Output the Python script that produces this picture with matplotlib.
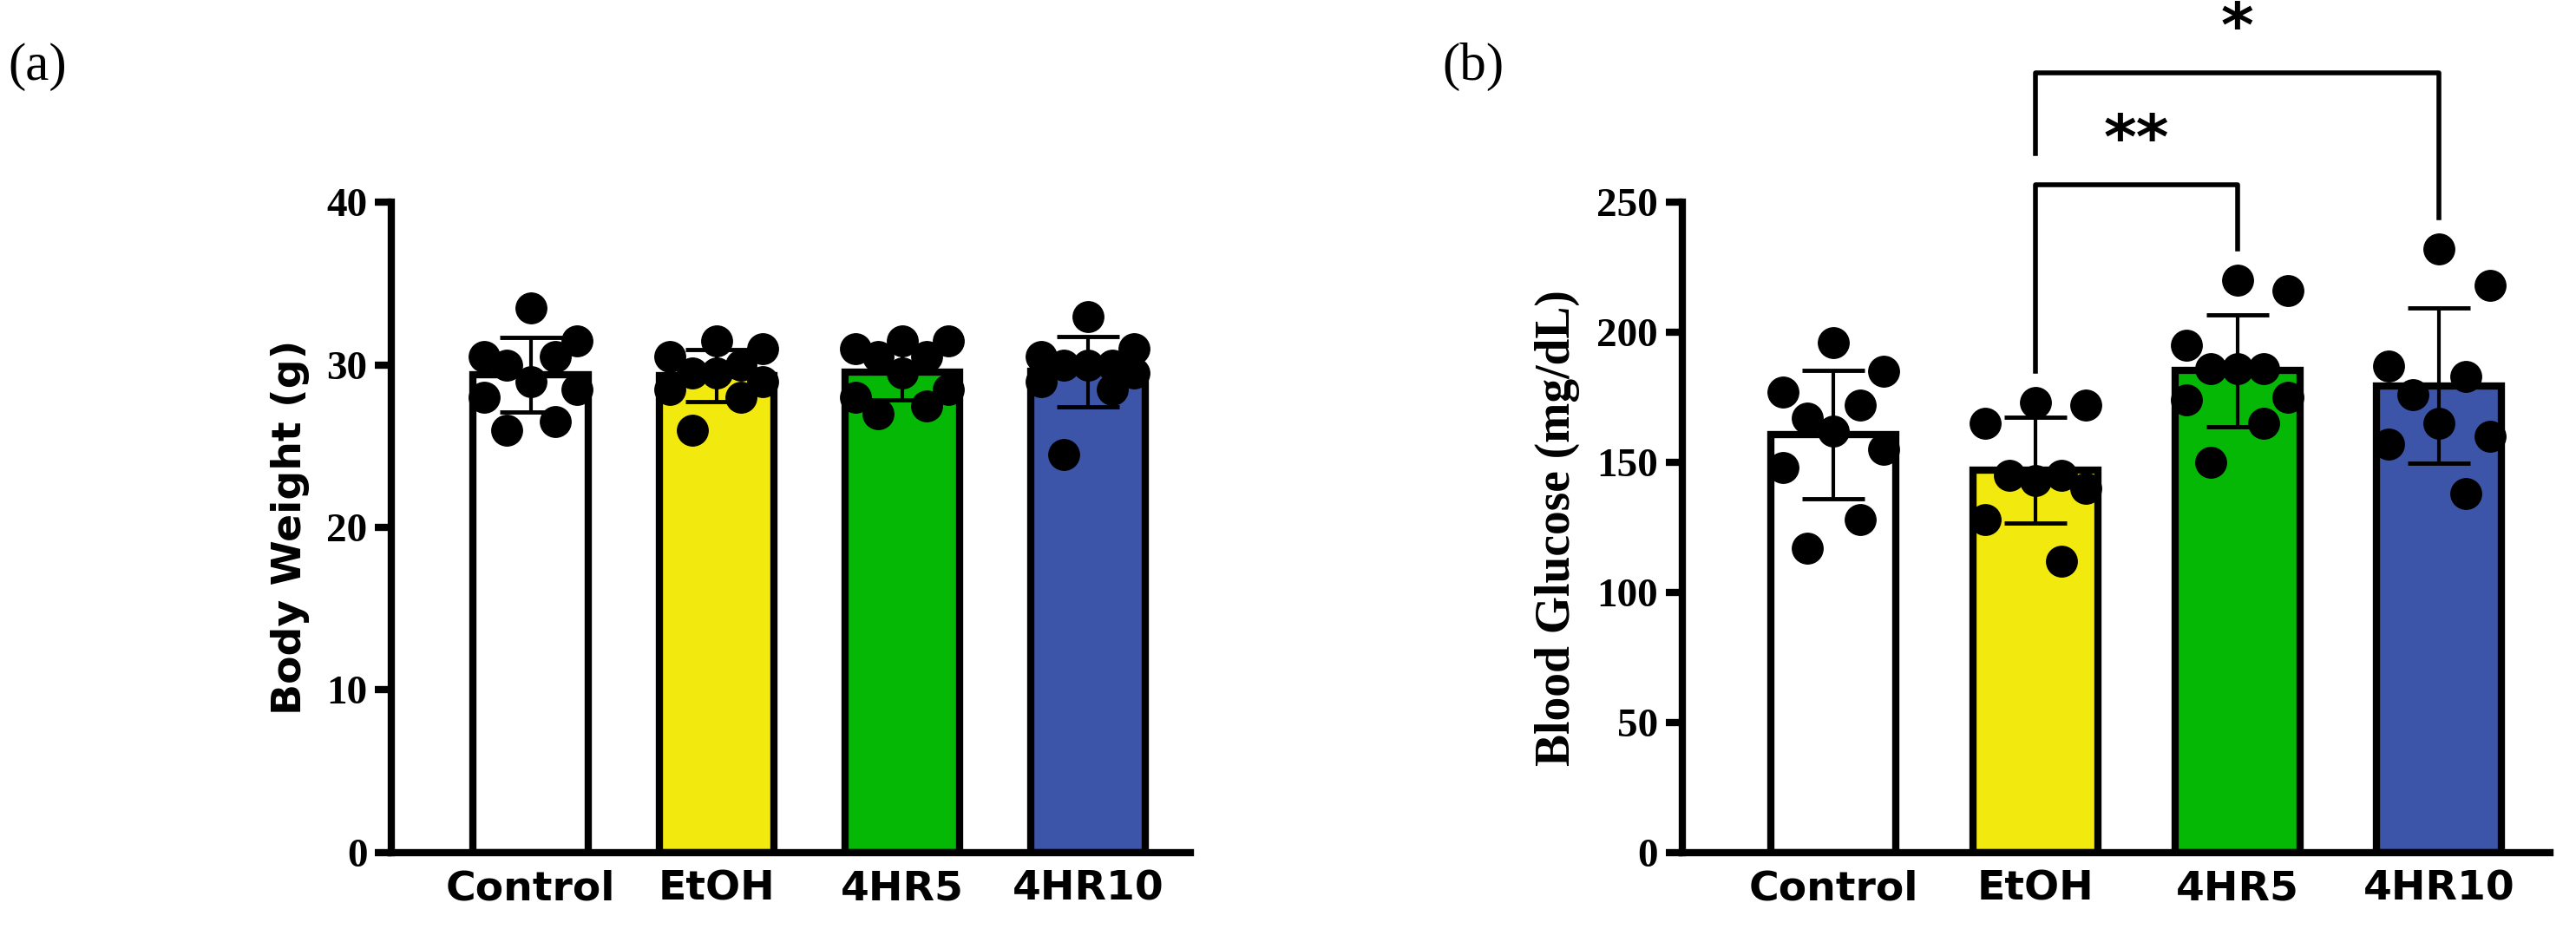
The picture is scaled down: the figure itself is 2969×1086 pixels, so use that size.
import matplotlib.pyplot as plt
import numpy as np

groups = ["Control", "EtOH", "4HR5", "4HR10"]
colors = ["#ffffff", "#f2e90f", "#05b805", "#3d55a8"]

weight = [
    [33.5, 31.5, 30.5, 30.5, 30.0, 29.0, 28.5, 28.0, 26.5, 26.0],
    [31.5, 31.0, 30.5, 30.0, 29.5, 29.5, 29.0, 28.5, 28.0, 26.0],
    [31.5, 31.5, 31.0, 30.5, 30.5, 29.5, 28.5, 28.0, 27.5, 27.0],
    [33.0, 31.0, 30.5, 30.0, 30.0, 30.0, 29.5, 29.0, 28.5, 24.5],
]
glucose = [
    [196, 185, 177, 172, 167, 162, 155, 148, 128, 117],
    [173, 172, 165, 145, 145, 143, 140, 128, 112],
    [220, 216, 195, 186, 186, 186, 175, 174, 165, 150],
    [232, 218, 187, 183, 176, 165, 160, 157, 138],
]
jitter = [0.0, 0.25, -0.25, 0.13, -0.13, 0.0, 0.25, -0.25, 0.13, -0.13]

SERIF = "Liberation Serif"


def panel(ax, data, ylim, yticks, ylabel, ylabel_family, ylabel_size):
    x = np.arange(len(groups))
    means = [np.mean(d) for d in data]
    sds = [np.std(d, ddof=1) for d in data]
    ax.bar(x, means, width=0.62, color=colors, edgecolor="black", linewidth=6, zorder=1)
    for i, d in enumerate(data):
        xs = x[i] + np.array(jitter[:len(d)])
        ax.scatter(xs, d, s=650, color="black", zorder=3)
    ax.errorbar(x, means, yerr=sds, fmt="none", ecolor="black", elinewidth=3,
                capsize=26, capthick=3.5, zorder=4)
    ax.set_ylim(*ylim)
    ax.set_xlim(-0.75, 3.55)
    ax.set_yticks(yticks)
    ax.set_yticklabels([str(t) for t in yticks], fontfamily=SERIF, fontweight="bold", fontsize=34)
    ax.set_xticks(x)
    ax.set_xticklabels(groups, fontfamily="DejaVu Sans", fontweight="bold", fontsize=34)
    ax.set_ylabel(ylabel, fontfamily=ylabel_family, fontweight="bold", fontsize=ylabel_size, labelpad=14)
    for s in ["top", "right"]:
        ax.spines[s].set_visible(False)
    for s in ["left", "bottom"]:
        ax.spines[s].set_linewidth(6)
    ax.tick_params(axis="y", width=6, length=14, pad=6)
    ax.tick_params(axis="x", length=0, pad=14)


fig = plt.figure(figsize=(29.69, 10.86), dpi=100)
ax1 = fig.add_axes([0.152, 0.095, 0.31, 0.69])
ax2 = fig.add_axes([0.653, 0.095, 0.337, 0.69])

panel(ax1, weight, (0, 40), [0, 10, 20, 30, 40], "Body Weight (g)", "DejaVu Sans", 34)
panel(ax2, glucose, (0, 250), [0, 50, 100, 150, 200, 250], "Blood Glucose (mg/dL)", SERIF, 40)

# significance brackets
kw = dict(color="black", linewidth=4, clip_on=False)
ax2.plot([1, 1, 2, 2], [185, 257, 257, 232], **kw)
ax2.text(1.5, 262, "**", ha="center", va="bottom", fontsize=52, fontweight="bold", clip_on=False)
ax2.plot([1, 1, 3, 3], [269, 300, 300, 244], **kw)
ax2.text(2.0, 305, "*", ha="center", va="bottom", fontsize=52, fontweight="bold", clip_on=False)

fig.text(0.003, 0.915, "(a)", fontfamily=SERIF, fontsize=44)
fig.text(0.56, 0.915, "(b)", fontfamily=SERIF, fontsize=44)

fig.savefig("out.png", dpi=100)
